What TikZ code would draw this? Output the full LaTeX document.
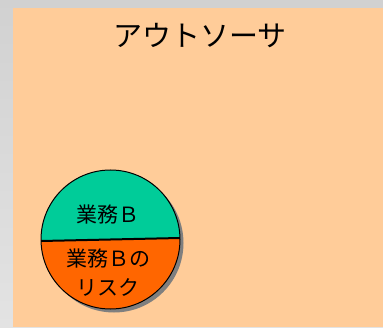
\documentclass[tikz,border=0pt]{standalone}
\usepackage{fontspec}
\newfontfamily\jp{Noto Sans CJK JP}
\definecolor{peach}{HTML}{FFCC99}
\definecolor{topgreen}{HTML}{00CC99}
\definecolor{orng}{HTML}{FF6600}
\definecolor{shadowgray}{HTML}{7F7F7F}
\begin{document}
\begin{tikzpicture}[x=1pt,y=1pt,
  lbl/.style={font=\jp\fontsize{21}{29}\selectfont, inner sep=0pt, align=center},
  ttl/.style={font=\jp\fontsize{29}{32}\selectfont, inner sep=0pt}]
\useasboundingbox (0,0) rectangle (383,327);
\shade[top color=black!18, bottom color=black!11] (0,0) rectangle (383,327);
\fill[peach] (13,0) rectangle (383,319);
\node[ttl] (title) at (200,291) {アウトソーサ};
% shadow
\fill[shadowgray] (114,84) circle[radius=69.5];
\def\th{1.24}
\coordinate (c) at (110.5,87.5);
\fill[topgreen] (c) ++(\th:69.5) arc[start angle=\th, end angle=180+\th, radius=69.5] -- cycle;
\fill[orng] (c) ++(180+\th:69.5) arc[start angle=180+\th, end angle=360+\th, radius=69.5] -- cycle;
\draw[line width=1pt] (c) circle[radius=69.5];
\path (c) ++(180+\th:69.5) coordinate (dl) (c) ++(\th:69.5) coordinate (dr);
\draw[line width=2pt] (dl) -- (dr);
\node[lbl] (top) at (108,112) {業務Ｂ};
\node[lbl] (bot) at (108,54) {業務Ｂの\\リスク};
\end{tikzpicture}
\end{document}
